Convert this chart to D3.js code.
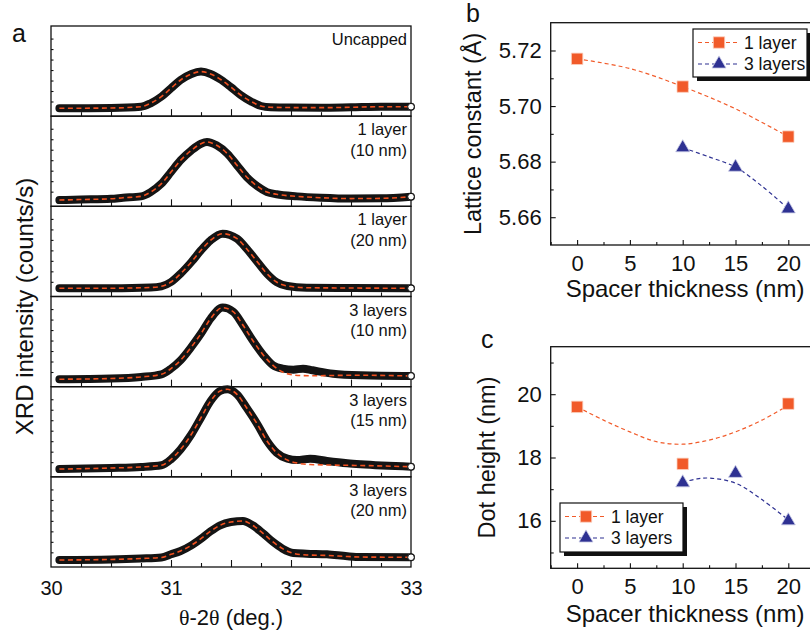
<!DOCTYPE html>
<html>
<head>
<meta charset="utf-8">
<script src="https://cdn.jsdelivr.net/npm/d3@7"></script>
<style>
  body { margin: 0; background: #fff; }
  svg text { font-family: "Liberation Sans", Arial, Helvetica, sans-serif; fill: #111; }
  .frame { fill: none; stroke: #111; stroke-width: 1.3; }
  .axis .domain { display: none; }
  .axis line { stroke: #111; stroke-width: 1.1; }
  .tick-a text { font-size: 20px; }
  .tick-bc text { font-size: 22px; }
  .serif { font-family: "Liberation Serif", "DejaVu Serif", serif; }
</style>
</head>
<body>
<svg id="fig" width="810" height="635"></svg>
<script>
// ---------- panel a: XRD scans, [2theta (deg), intensity (arb. units)] ----------
const uncapped = [[30.07,0.75],[30.25,0.76],[30.5,0.78],[30.75,0.9],[30.83,1.23],[30.92,1.86],[31.0,2.66],[31.08,3.45],[31.17,4.03],[31.25,4.25],[31.33,4.03],[31.42,3.45],[31.5,2.76],[31.58,2.02],[31.67,1.38],[31.75,0.97],[31.83,0.85],[32.0,0.82],[32.25,0.81],[32.5,0.85],[32.75,0.9],[33.0,0.9]];
const oneLayer10 = [[30.07,0.6],[30.25,0.65],[30.5,0.72],[30.6,0.82],[30.75,0.95],[30.83,1.36],[30.92,2.16],[31.0,3.27],[31.08,4.39],[31.17,5.34],[31.25,5.97],[31.3,6.14],[31.38,5.82],[31.47,5.02],[31.55,3.91],[31.63,2.8],[31.72,1.91],[31.8,1.36],[31.88,1.15],[32.05,0.95],[32.25,0.82],[32.5,0.74],[32.75,0.76],[33.0,0.92]];
const oneLayer20 = [[30.07,0.78],[30.5,0.79],[30.83,0.86],[30.92,0.97],[31.0,1.38],[31.08,2.18],[31.17,3.29],[31.25,4.41],[31.33,5.36],[31.43,5.99],[31.55,5.52],[31.63,4.56],[31.72,3.29],[31.8,2.18],[31.88,1.38],[31.97,1.0],[32.13,0.84],[32.5,0.81],[33.0,0.78]];
const threeLayers10 = [[30.07,0.71],[30.5,0.78],[30.75,0.93],[30.92,1.18],[31.0,1.72],[31.08,2.52],[31.17,3.79],[31.25,5.06],[31.33,6.49],[31.43,7.54],[31.52,7.13],[31.6,5.86],[31.68,4.43],[31.77,3.0],[31.85,2.04],[31.93,1.72],[32.02,1.62],[32.1,1.72],[32.18,1.56],[32.35,1.24],[32.58,1.09],[33.0,1.02]];
const threeLayers15 = [[30.07,0.74],[30.5,0.84],[30.75,0.94],[30.92,1.1],[31.0,1.67],[31.08,2.62],[31.17,4.06],[31.25,5.64],[31.33,7.23],[31.41,8.19],[31.47,8.35],[31.55,7.87],[31.63,6.59],[31.72,5.01],[31.8,3.42],[31.88,2.3],[31.97,1.73],[32.05,1.6],[32.16,1.73],[32.3,1.51],[32.47,1.29],[32.58,1.19],[33.0,0.96]];
const threeLayers20 = [[30.07,0.67],[30.5,0.72],[30.75,0.81],[30.92,0.91],[31.0,1.21],[31.08,1.53],[31.17,2.07],[31.25,2.7],[31.33,3.41],[31.41,3.98],[31.5,4.29],[31.6,4.39],[31.68,3.98],[31.77,3.18],[31.85,2.39],[31.93,1.75],[32.02,1.34],[32.13,1.27],[32.3,1.21],[32.47,1.02],[32.58,0.95],[33.0,0.93]];

// fitted curves that leave the data around the 32.1 deg shoulder
const fitThreeLayers10 = [[30.07,0.71],[30.5,0.78],[30.75,0.93],[30.92,1.18],[31.0,1.72],[31.08,2.52],[31.17,3.79],[31.25,5.06],[31.33,6.49],[31.43,7.54],[31.52,7.13],[31.6,5.86],[31.68,4.43],[31.77,3.0],[31.85,2.04],[31.93,1.4],[32.02,1.12],[32.1,1.05],[32.18,1.04],[32.35,1.07],[32.58,1.09],[33.0,1.02]];
const fitThreeLayers15 = [[30.07,0.74],[30.5,0.84],[30.75,0.94],[30.92,1.1],[31.0,1.67],[31.08,2.62],[31.17,4.06],[31.25,5.64],[31.33,7.23],[31.41,8.19],[31.47,8.35],[31.55,7.87],[31.63,6.59],[31.72,5.01],[31.8,3.42],[31.88,2.3],[31.97,1.6],[32.05,1.32],[32.16,1.17],[32.3,1.13],[32.47,1.1],[32.58,1.08],[33.0,0.96]];
const fitThreeLayers20 = [[30.07,0.67],[30.5,0.72],[30.75,0.81],[30.92,0.91],[31.0,1.21],[31.08,1.53],[31.17,2.07],[31.25,2.7],[31.33,3.41],[31.41,3.98],[31.5,4.29],[31.6,4.39],[31.68,3.98],[31.77,3.18],[31.85,2.39],[31.93,1.75],[32.02,1.3],[32.13,1.15],[32.3,1.1],[32.47,1.0],[32.58,0.95],[33.0,0.93]];

const xrdScans = [uncapped, oneLayer10, oneLayer20, threeLayers10, threeLayers15, threeLayers20];
const xrdFits = [uncapped, oneLayer10, oneLayer20, fitThreeLayers10, fitThreeLayers15, fitThreeLayers20];
const xrdLabels = [["Uncapped"], ["1 layer", "(10 nm)"], ["1 layer", "(20 nm)"], ["3 layers", "(10 nm)"], ["3 layers", "(15 nm)"], ["3 layers", "(20 nm)"]];
const xrdTickLabels = [30, 31, 32, 33];
const xrdMajorTicks = [30.5, 31, 31.5, 32, 32.5];
const xrdMinorTicks = [30.25, 30.75, 31.25, 31.75, 32.25, 32.75];
const xrdYTicks = [1.4, 2.4, 3.4, 4.4, 5.4, 6.4, 7.4];

// ---------- panels b, c ----------
const spacerOne = [0, 10, 20];
const spacerThree = [10, 15, 20];
const latticeOne = [5.717, 5.707, 5.689];
const latticeThree = [5.685, 5.678, 5.663];
const heightOne = [19.6, 17.8, 19.7];
const heightThree = [17.2, 17.5, 16.0];

// guide curves as drawn in the figure, [spacer, value]
const latticeFitOne = [[0,5.717],[5,5.7135],[10,5.707],[15,5.699],[20,5.689]];
const latticeFitThree = [[10,5.685],[12.5,5.6817],[15,5.678],[17.5,5.6712],[20,5.663]];
const heightFitOne = [[0,19.6],[2.5,19.18],[5,18.81],[7.5,18.5],[10,18.42],[12.5,18.55],[15,18.81],[17.5,19.18],[20,19.65]];
const heightFitThree = [[10,17.22],[11.3,17.32],[12.5,17.35],[15,17.19],[17.5,16.67],[20,16.03]];

const spacerMajor = [0, 5, 10, 15, 20];
const spacerMinor = [-2.5, 2.5, 7.5, 12.5, 17.5, 22.5];
const latticeMajor = [5.66, 5.68, 5.70, 5.72];
const latticeMinor = [5.67, 5.69, 5.71];
const heightMajor = [16, 18, 20];
const heightMinor = [15, 17, 19, 21];
const legendNames = ["1 layer", "3 layers"];

const orange = '#f15a29';
const blue = '#2e3192';

const svg = d3.select('#fig');

class XrdStack {
  constructor(_config) {
    this.config = {
      left: _config.left, right: _config.right,
      top: _config.top, bottom: _config.bottom
    };
    this.initVis();
  }

  initVis() {
    let vis = this, c = vis.config;
    vis.xScale = d3.scaleLinear().domain([30, 33]).range([c.left, c.right]);
    vis.panelH = (c.bottom - c.top) / xrdScans.length;

    xrdScans.forEach((scan, i) => {
      const top = c.top + i * vis.panelH, bottom = top + vis.panelH;
      const y = d3.scaleLinear().domain([0, 8.6]).range([bottom, top]);
      const g = svg.append('g');

      g.append('rect').attr('class', 'frame')
        .attr('x', c.left).attr('y', top)
        .attr('width', c.right - c.left).attr('height', vis.panelH);

      g.append('g').attr('class', 'axis')
        .attr('transform', `translate(${c.left},0)`)
        .call(d3.axisLeft(y).tickValues(xrdYTicks).tickSize(-2.5).tickFormat(''));
      g.append('g').attr('class', 'axis')
        .attr('transform', `translate(0,${bottom})`)
        .call(d3.axisBottom(vis.xScale).tickValues(xrdMajorTicks).tickSize(-7).tickFormat(''));
      g.append('g').attr('class', 'axis')
        .attr('transform', `translate(0,${bottom})`)
        .call(d3.axisBottom(vis.xScale).tickValues(xrdMinorTicks).tickSize(-4).tickFormat(''));

      const line = d3.line()
        .x(d => vis.xScale(d[0]))
        .y(d => y(d[1]))
        .curve(d3.curveMonotoneX);

      // measured points (dense open circles -> thick band)
      g.append('path').datum(scan)
        .attr('d', line)
        .attr('fill', 'none').attr('stroke', '#141414')
        .attr('stroke-width', 8).attr('stroke-linecap', 'round').attr('stroke-linejoin', 'round');
      g.append('path').datum(xrdFits[i])
        .attr('d', line)
        .attr('fill', 'none').attr('stroke', '#f0501f')
        .attr('stroke-width', 1.6).attr('stroke-dasharray', '5,3.5');
      const last = scan[scan.length - 1];
      g.append('circle')
        .attr('cx', vis.xScale(last[0])).attr('cy', y(last[1])).attr('r', 3.3)
        .attr('fill', '#fff').attr('stroke', '#111').attr('stroke-width', 1);

      const lbl = g.append('text').attr('text-anchor', 'end').style('font-size', '16.5px');
      xrdLabels[i].forEach((s, k) => {
        lbl.append('tspan').attr('x', c.right - 4).attr('y', top + 19 + k * 20.5).text(s);
      });

      if (i === xrdScans.length - 1) {
        g.append('g').attr('class', 'axis tick-a')
          .attr('transform', `translate(0,${bottom})`)
          .call(d3.axisBottom(vis.xScale).tickValues(xrdTickLabels).tickSize(0).tickPadding(13.5).tickFormat(d3.format('d')));
      }
    });

    const xt = svg.append('text').attr('x', (c.left + c.right) / 2 + 0).attr('y', 625)
      .attr('text-anchor', 'middle').style('font-size', '22px');
    xt.append('tspan').attr('class', 'serif').text('θ');
    xt.append('tspan').text('-2');
    xt.append('tspan').attr('class', 'serif').text('θ');
    xt.append('tspan').text(' (deg.)');

    svg.append('text')
      .attr('transform', `translate(33,${(c.top + c.bottom) / 2 + 10})rotate(-90)`)
      .attr('text-anchor', 'middle').style('font-size', '24px')
      .text('XRD intensity (counts/s)');

    svg.append('text').attr('x', 12).attr('y', 42).style('font-size', '25px').text('a');
  }
}

class SpacerPlot {
  constructor(_config, _series) {
    this.config = {
      left: _config.left, right: _config.right,
      top: _config.top, bottom: _config.bottom,
      yDomain: _config.yDomain, yMajor: _config.yMajor, yMinor: _config.yMinor,
      yFormat: _config.yFormat, yTitle: _config.yTitle, yTitleX: _config.yTitleX,
      xTitleY: _config.xTitleY, legend: _config.legend,
      letter: _config.letter, letterPos: _config.letterPos
    };
    this.series = _series;
    this.initVis();
    this.renderVis();
  }

  initVis() {
    let vis = this, c = vis.config;
    vis.xScale = d3.scaleLinear().domain([-2.5, 22.5]).range([c.left, c.right]);
    vis.yScale = d3.scaleLinear().domain(c.yDomain).range([c.bottom, c.top]);
    vis.g = svg.append('g');

    vis.g.append('rect').attr('class', 'frame')
      .attr('x', c.left).attr('y', c.top)
      .attr('width', c.right - c.left).attr('height', c.bottom - c.top);

    vis.g.append('g').attr('class', 'axis tick-bc')
      .attr('transform', `translate(0,${c.bottom})`)
      .call(d3.axisBottom(vis.xScale).tickValues(spacerMajor).tickSize(-5).tickPadding(10).tickFormat(d3.format('d')));
    vis.g.append('g').attr('class', 'axis')
      .attr('transform', `translate(0,${c.bottom})`)
      .call(d3.axisBottom(vis.xScale).tickValues(spacerMinor).tickSize(-3).tickFormat(''));
    vis.g.append('g').attr('class', 'axis tick-bc')
      .attr('transform', `translate(${c.left},0)`)
      .call(d3.axisLeft(vis.yScale).tickValues(c.yMajor).tickSize(-5).tickPadding(9).tickFormat(c.yFormat));
    vis.g.append('g').attr('class', 'axis')
      .attr('transform', `translate(${c.left},0)`)
      .call(d3.axisLeft(vis.yScale).tickValues(c.yMinor).tickSize(-3).tickFormat(''));

    vis.g.append('text')
      .attr('x', 685).attr('y', c.xTitleY)
      .attr('text-anchor', 'middle').style('font-size', '24px')
      .text('Spacer thickness (nm)');
    vis.g.append('text')
      .attr('transform', `translate(${c.yTitleX},${(c.top + c.bottom) / 2})rotate(-90)`)
      .attr('text-anchor', 'middle').style('font-size', '23.5px')
      .text(c.yTitle);
    vis.g.append('text')
      .attr('x', c.letterPos[0]).attr('y', c.letterPos[1])
      .style('font-size', '25px').text(c.letter);
  }

  renderVis() {
    let vis = this, c = vis.config;
    const line = d3.line()
      .x(d => vis.xScale(d[0]))
      .y(d => vis.yScale(d[1]))
      .curve(d3.curveCatmullRom);

    vis.series.forEach(s => {
      vis.g.append('path').datum(s.fit)
        .attr('d', line)
        .attr('fill', 'none').attr('stroke', s.color)
        .attr('stroke-width', 1.2).attr('stroke-dasharray', '4,3');
      vis.g.selectAll(null)
        .data(d3.zip(s.x, s.y))
        .join('path')
          .attr('transform', d => `translate(${vis.xScale(d[0])},${vis.yScale(d[1])})`)
          .attr('d', d3.symbol(s.symbol, s.size))
          .attr('fill', s.color).attr('stroke', s.halo).attr('stroke-width', 0.8);
    });

    // legend with drop shadow
    const L = c.legend;
    vis.g.append('rect').attr('x', L.x + 4).attr('y', L.y + 4)
      .attr('width', L.w).attr('height', L.h).attr('fill', '#111');
    vis.g.append('rect').attr('x', L.x).attr('y', L.y)
      .attr('width', L.w).attr('height', L.h)
      .attr('fill', '#fff').attr('stroke', '#111').attr('stroke-width', 1.2);
    vis.series.forEach((s, i) => {
      const ry = L.y + 13.5 + i * 21.5;
      vis.g.append('line')
        .attr('x1', L.x + 5).attr('x2', L.x + 47).attr('y1', ry).attr('y2', ry)
        .attr('stroke', s.color).attr('stroke-width', 1.2).attr('stroke-dasharray', '4,3');
      vis.g.append('path')
        .attr('transform', `translate(${L.x + 26},${ry})`)
        .attr('d', d3.symbol(s.symbol, s.size))
        .attr('fill', s.color).attr('stroke', s.halo).attr('stroke-width', 0.8);
      vis.g.append('text')
        .attr('x', L.x + 51).attr('y', ry + 6)
        .style('font-size', '17.5px').text(legendNames[i]);
    });
  }
}

new XrdStack({left: 51, right: 411, top: 26, bottom: 567});

new SpacerPlot({
  left: 550.7, right: 814.7, top: 22.7, bottom: 245,
  yDomain: [5.65, 5.73], yMajor: latticeMajor, yMinor: latticeMinor,
  yFormat: d3.format('.2f'), yTitle: 'Lattice constant (Å)', yTitleX: 481,
  xTitleY: 297, legend: {x: 693, y: 29, w: 114, h: 48},
  letter: 'b', letterPos: [466, 22]
}, [
  {x: spacerOne, y: latticeOne, fit: latticeFitOne, color: orange, halo: '#fbd0bf', symbol: d3.symbolSquare, size: 130},
  {x: spacerThree, y: latticeThree, fit: latticeFitThree, color: blue, halo: '#c9cbe6', symbol: d3.symbolTriangle, size: 85}
]);

new SpacerPlot({
  left: 550.7, right: 814.7, top: 346.7, bottom: 568.3,
  yDomain: [14.5, 21.5], yMajor: heightMajor, yMinor: heightMinor,
  yFormat: d3.format('d'), yTitle: 'Dot height (nm)', yTitleX: 495,
  xTitleY: 622, legend: {x: 560, y: 503, w: 123, h: 49},
  letter: 'c', letterPos: [481, 348]
}, [
  {x: spacerOne, y: heightOne, fit: heightFitOne, color: orange, halo: '#fbd0bf', symbol: d3.symbolSquare, size: 130},
  {x: spacerThree, y: heightThree, fit: heightFitThree, color: blue, halo: '#c9cbe6', symbol: d3.symbolTriangle, size: 85}
]);
</script>
</body>
</html>
